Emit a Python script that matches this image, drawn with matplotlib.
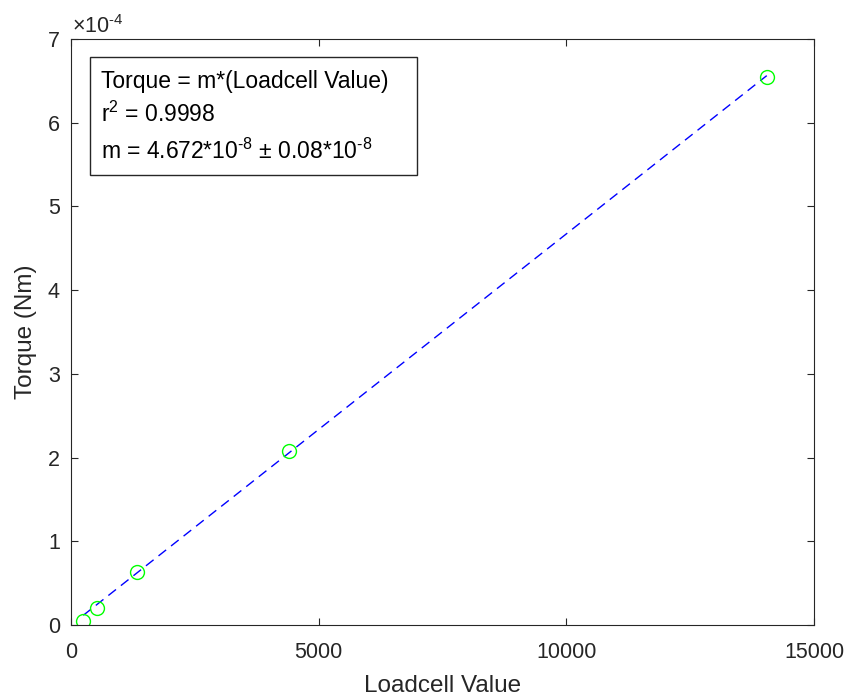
import matplotlib
matplotlib.use("Agg")
import matplotlib.pyplot as plt
from matplotlib.patches import Rectangle
import numpy as np

plt.rcParams['font.family'] = ['Liberation Sans', 'DejaVu Sans']
plt.rcParams['mathtext.fontset'] = 'custom'
plt.rcParams['mathtext.rm'] = 'Liberation Sans'
plt.rcParams['mathtext.it'] = 'Liberation Sans'

loadcell = [248, 531, 1339, 4408, 14046]
torque = [0.051e-4, 0.20e-4, 0.637e-4, 2.082e-4, 6.543e-4]
slope = 4.672e-8
xticks = [0, 5000, 10000, 15000]
yticks = [0, 1e-4, 2e-4, 3e-4, 4e-4, 5e-4, 6e-4, 7e-4]
yticklabels = ['0', '1', '2', '3', '4', '5', '6', '7']
box_lines = ['Torque = m*(Loadcell Value)',
             r'r$^{2}$ = 0.9998',
             'm = 4.672*10$^{\u20108}$ $\\pm$ 0.08*10$^{\u20108}$']

W, H = 852, 698
def fx(px):
    return px / W
def fy(py):
    return 1 - py / H

gray = (0.15, 0.15, 0.15)
fig = plt.figure(figsize=(W / 100, H / 100), dpi=100)
ax = fig.add_axes([fx(71), fy(625), (814 - 71) / W, (625 - 39) / H])

xl = np.array([loadcell[0], loadcell[-1]])
ax.plot(xl, slope * xl, linestyle=(0, (7, 4.5)), color='#0000ff', lw=1.0)
ax.plot(loadcell, torque, 'o', mfc='none', mec='#00ff00', ms=10, mew=1.0)

ax.set_xlim(0, 15000)
ax.set_ylim(0, 7e-4)
ax.set_xticks(xticks)
ax.set_xticklabels([str(t) for t in xticks])
ax.set_yticks(yticks)
ax.set_yticklabels(yticklabels)
ax.tick_params(direction='in', top=True, right=True, length=5.3, width=0.8,
               colors=gray, labelsize=15.5, labelcolor=gray)
ax.tick_params(axis='x', pad=12)
ax.tick_params(axis='y', pad=8)
for s in ax.spines.values():
    s.set_color(gray)
    s.set_linewidth(0.8)

fig.text(fx(443), fy(692), 'Loadcell Value', fontsize=17.5, color=gray,
         ha='center', va='baseline')
fig.text(fx(26), fy(332), 'Torque (Nm)', fontsize=17.5, color=gray,
         ha='center', va='center', rotation=90)
fig.text(fx(72), fy(33), '$\\times$10$^{\u20104}$', fontsize=15.5, color=gray,
         ha='left', va='baseline')

fig.patches.append(Rectangle((fx(90), fy(175)), (417 - 90) / W, (175 - 57) / H,
                             transform=fig.transFigure, fc='white', ec=gray,
                             lw=1.0, zorder=5))
for line, py in zip(box_lines, [88, 122, 159]):
    fig.text(fx(101), fy(py), line, fontsize=16.5, color='black',
             ha='left', va='baseline', zorder=6)

fig.savefig('out.png', dpi=100)
